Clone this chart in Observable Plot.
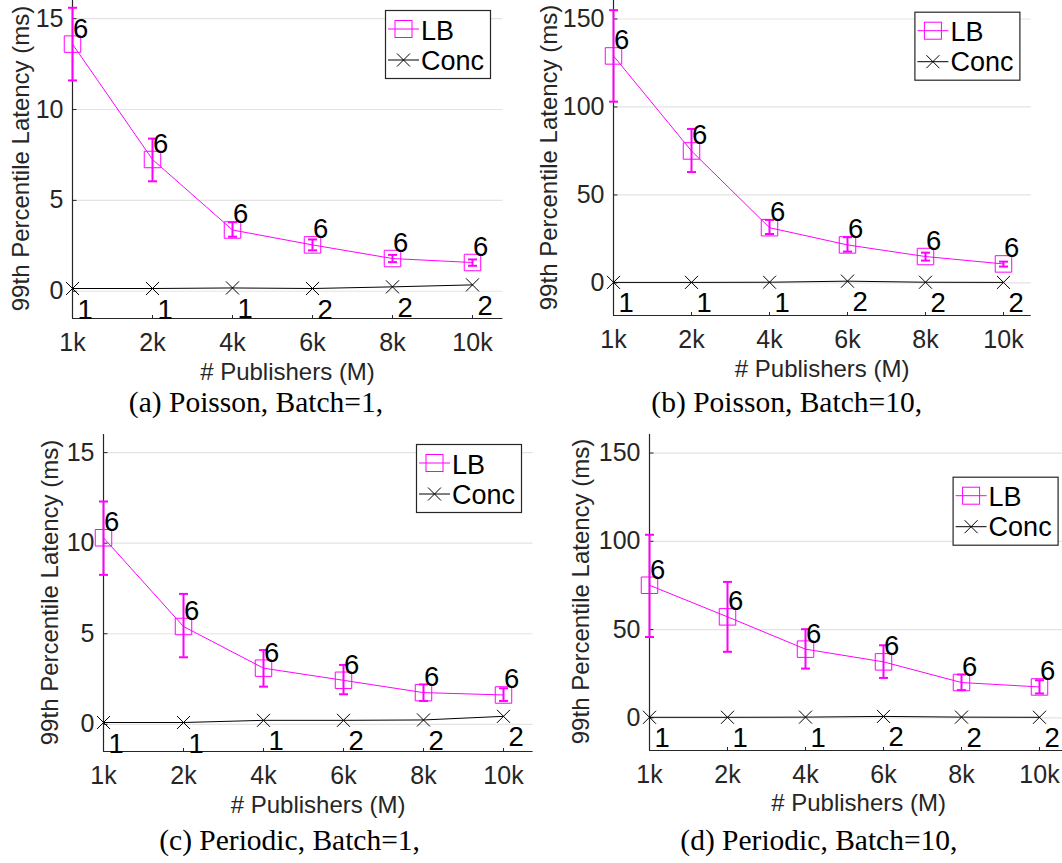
<!DOCTYPE html>
<html><head><meta charset="utf-8">
<script src="https://cdn.jsdelivr.net/npm/d3@7"></script>
<script src="https://cdn.jsdelivr.net/npm/@observablehq/plot@0.6"></script>
<style>
html,body{margin:0;padding:0;background:#fff;overflow:hidden;width:1062px;height:863px}
#root{position:relative;width:1062px;height:863px;overflow:hidden}
#root > svg{position:absolute}
</style></head><body><div id="root"></div>
<script>
// ---------- data ----------
const publishers = ["1k", "2k", "4k", "6k", "8k", "10k"];
const lbCounts = [6, 6, 6, 6, 6, 6];
const concCounts = [1, 1, 1, 2, 2, 2];
const seriesNames = ["LB", "Conc"];

// (a) Poisson, Batch=1
const lbA    = [13.6, 7.25, 3.37, 2.55, 1.8, 1.58];
const lbA_lo = [11.6, 6.05, 3.0, 2.25, 1.6, 1.4];
const lbA_hi = [15.6, 8.4, 3.8, 2.85, 2.0, 1.75];
const concA  = [0.15, 0.15, 0.18, 0.15, 0.24, 0.35];
// (b) Poisson, Batch=10
const lbB    = [129, 75, 31.4, 21.6, 15, 10.8];
const lbB_lo = [103, 63, 27.8, 17.8, 12.7, 9.3];
const lbB_hi = [155, 87.5, 35.8, 26, 17.2, 12.1];
const concB  = [0.3, 0.3, 0.4, 1.0, 0.4, 0.3];
// (c) Periodic, Batch=1
const lbC    = [10.3, 5.4, 3.1, 2.43, 1.75, 1.62];
const lbC_lo = [8.25, 3.7, 2.08, 1.66, 1.29, 1.29];
const lbC_hi = [12.3, 7.2, 4.1, 3.28, 2.2, 1.99];
const concC  = [0.1, 0.1, 0.22, 0.22, 0.24, 0.44];
// (d) Periodic, Batch=10
const lbD    = [75.1, 57.2, 38.9, 31.7, 20, 17.5];
const lbD_lo = [45.8, 37.4, 27.9, 22.6, 15.7, 13.8];
const lbD_hi = [103.7, 77, 50.2, 41.1, 24.5, 21.3];
const concD  = [0.3, 0.3, 0.4, 0.8, 0.4, 0.3];

const yTicksSmall = [0, 5, 10, 15];
const yTicksLarge = [0, 50, 100, 150];
const captions = ["(a) Poisson, Batch=1,", "(b) Poisson, Batch=10,", "(c) Periodic, Batch=1,", "(d) Periodic, Batch=10,"];
const xTitle = "# Publishers (M)";
const yTitle = "99th Percentile Latency (ms)";

// ---------- layout / style ----------
const MAG = "#ff00ff";
const AX = "#262626";
const GRID = "#e3e3e3";
const SANS = "'Liberation Sans', Arial, Helvetica, sans-serif";
const SERIF = "'Liberation Serif', 'Times New Roman', serif";

const layouts = [
  {box: {l: 72.3, r: 502.7, t: -0.5, b: 317.5}, yDomain: [-1.5, 16], yTicks: yTicksSmall, legend: [385, 10], yTitleX: 28.5, xTitleY: 379.5, capX: 256, capY: 412},
  {box: {l: 613.3, r: 1031, t: 0, b: 315}, yDomain: [-18.5, 160.5], yTicks: yTicksLarge, legend: [914.4, 11.7], yTitleX: 556.5, xTitleY: 377, capX: 786.7, capY: 412},
  {box: {l: 103.3, r: 532.9, t: 434, b: 751}, yDomain: [-1.5, 16], yTicks: yTicksSmall, legend: [416, 444], yTitleX: 58, xTitleY: 813, capX: 289.6, capY: 850},
  {box: {l: 648.9, r: 1068.3, t: 433.5, b: 749.5}, yDomain: [-18.5, 160.5], yTicks: yTicksLarge, legend: [952.6, 476.7], yTitleX: 588.7, xTitleY: 811, capX: 818.9, capY: 850}
];
const series = [
  {lb: lbA, lo: lbA_lo, hi: lbA_hi, conc: concA},
  {lb: lbB, lo: lbB_lo, hi: lbB_hi, conc: concB},
  {lb: lbC, lo: lbC_lo, hi: lbC_hi, conc: concC},
  {lb: lbD, lo: lbD_lo, hi: lbD_hi, conc: concD}
];

// custom symbols (pixel-sized strokes drawn at data positions)
const capSymbol = {draw(ctx, size) { const r = Math.sqrt(size / Math.PI); ctx.moveTo(-r, 0); ctx.lineTo(r, 0); }};
const xTickSym = {draw(ctx, size) { const r = Math.sqrt(size / Math.PI); ctx.moveTo(0, 0); ctx.lineTo(0, -r); }};
const yTickSym = {draw(ctx, size) { const r = Math.sqrt(size / Math.PI); ctx.moveTo(0, 0); ctx.lineTo(r, 0); }};

const root = document.getElementById("root");
const ML = 80, MR = 12, MT = 12, MB = 50;

series.forEach((s, k) => {
  const L = layouts[k];
  const rows = publishers.map((p, i) => ({
    pub: p, lb: s.lb[i], lo: s.lo[i], hi: s.hi[i], conc: s.conc[i],
    lbN: lbCounts[i], concN: concCounts[i]
  }));
  const w = L.box.r - L.box.l + ML + MR;
  const h = L.box.b - L.box.t + MT + MB;
  const chart = Plot.plot({
    width: w, height: h,
    marginLeft: ML, marginRight: MR, marginTop: MT, marginBottom: MB,
    style: {fontFamily: SANS, fontSize: "24px", color: AX, background: "transparent", overflow: "visible"},
    x: {type: "point", domain: publishers, padding: 0.175, align: 0},
    y: {domain: L.yDomain},
    marks: [
      Plot.ruleY(L.yTicks, {stroke: GRID, strokeWidth: 1.2}),
      Plot.ruleX([publishers[0]], {stroke: AX, strokeWidth: 1.2}),
      Plot.ruleY([L.yDomain[0]], {stroke: AX, strokeWidth: 1.2}),
      Plot.dot(L.yTicks, {y: d => d, frameAnchor: "left", symbol: yTickSym, r: 4, stroke: AX, fill: "none", strokeWidth: 1}),
      Plot.dot(publishers, {x: d => d, frameAnchor: "bottom", symbol: xTickSym, r: 3.5, stroke: AX, fill: "none", strokeWidth: 1}),
      Plot.axisY(L.yTicks, {tickSize: 0, tickPadding: 9, fontSize: 25, fill: AX, label: null}),
      Plot.axisX(publishers, {tickSize: 0, tickPadding: 15, fontSize: 25, fill: AX, label: null}),
      // Conc
      Plot.line(rows, {x: "pub", y: "conc", stroke: "black", strokeWidth: 1}),
      Plot.dot(rows, {x: "pub", y: "conc", symbol: "times", r: 6, stroke: "black", fill: "none", strokeWidth: 1}),
      // LB
      Plot.line(rows, {x: "pub", y: "lb", stroke: MAG, strokeWidth: 1}),
      Plot.ruleX(rows, {x: "pub", y1: "lo", y2: "hi", stroke: MAG, strokeWidth: 2}),
      Plot.dot(rows, {x: "pub", y: "lo", symbol: capSymbol, r: 4.5, stroke: MAG, fill: "none", strokeWidth: 2}),
      Plot.dot(rows, {x: "pub", y: "hi", symbol: capSymbol, r: 4.5, stroke: MAG, fill: "none", strokeWidth: 2}),
      Plot.dot(rows, {x: "pub", y: "lb", symbol: "square", r: 9.3, stroke: MAG, fill: "none", strokeWidth: 1}),
      // count labels
      Plot.text(rows, {x: "pub", y: "lb", text: d => String(d.lbN), textAnchor: "start", lineAnchor: "bottom", dx: 0.5, dy: -6.5, fontSize: 27.5, fill: "black"}),
      Plot.text(rows, {x: "pub", y: "conc", text: d => String(d.concN), textAnchor: "start", lineAnchor: "bottom", dx: 5, dy: 30, fontSize: 27.5, fill: "black"})
    ]
  });
  chart.style.left = (L.box.l - ML) + "px";
  chart.style.top = (L.box.t - MT) + "px";
  root.appendChild(chart);
});

// ---------- overlay: titles, captions, legends ----------
const ov = d3.select(root).append("svg")
  .attr("width", 1062).attr("height", 863)
  .style("left", "0px").style("top", "0px").style("pointer-events", "none");

layouts.forEach((L, k) => {
  const cx = (L.box.l + L.box.r) / 2, cy = (L.box.t + L.box.b) / 2;
  ov.append("text").attr("transform", `translate(${L.yTitleX},${cy}) rotate(-90)`)
    .attr("text-anchor", "middle").attr("font-family", SANS).attr("font-size", 24).attr("fill", AX).text(yTitle);
  ov.append("text").attr("x", cx).attr("y", L.xTitleY)
    .attr("text-anchor", "middle").attr("font-family", SANS).attr("font-size", 24).attr("fill", AX).text(xTitle);
  ov.append("text").attr("x", L.capX).attr("y", L.capY)
    .attr("text-anchor", "middle").attr("font-family", SERIF).attr("font-size", 29.5).attr("fill", "black").text(captions[k]);

  const g = ov.append("g").attr("transform", `translate(${L.legend[0]},${L.legend[1]})`);
  g.append("rect").attr("x", 0.5).attr("y", 0.5).attr("width", 105).attr("height", 68)
    .attr("fill", "white").attr("stroke", AX).attr("stroke-width", 1.2);
  // LB row
  g.append("line").attr("x1", 3).attr("x2", 34).attr("y1", 19).attr("y2", 19).attr("stroke", MAG).attr("stroke-width", 1);
  g.append("rect").attr("x", 10).attr("y", 10.5).attr("width", 17).attr("height", 17).attr("fill", "none").attr("stroke", MAG).attr("stroke-width", 1);
  g.append("text").attr("x", 36).attr("y", 29.5).attr("font-family", SANS).attr("font-size", 27).attr("fill", "black").text(seriesNames[0]);
  // Conc row
  g.append("line").attr("x1", 3).attr("x2", 34).attr("y1", 50).attr("y2", 50).attr("stroke", "black").attr("stroke-width", 1);
  g.append("path").attr("d", "M12,43.5L25,56.5M12,56.5L25,43.5").attr("stroke", "black").attr("stroke-width", 1).attr("fill", "none");
  g.append("text").attr("x", 36).attr("y", 59.5).attr("font-family", SANS).attr("font-size", 27).attr("fill", "black").text(seriesNames[1]);
});
</script>
</body></html>
